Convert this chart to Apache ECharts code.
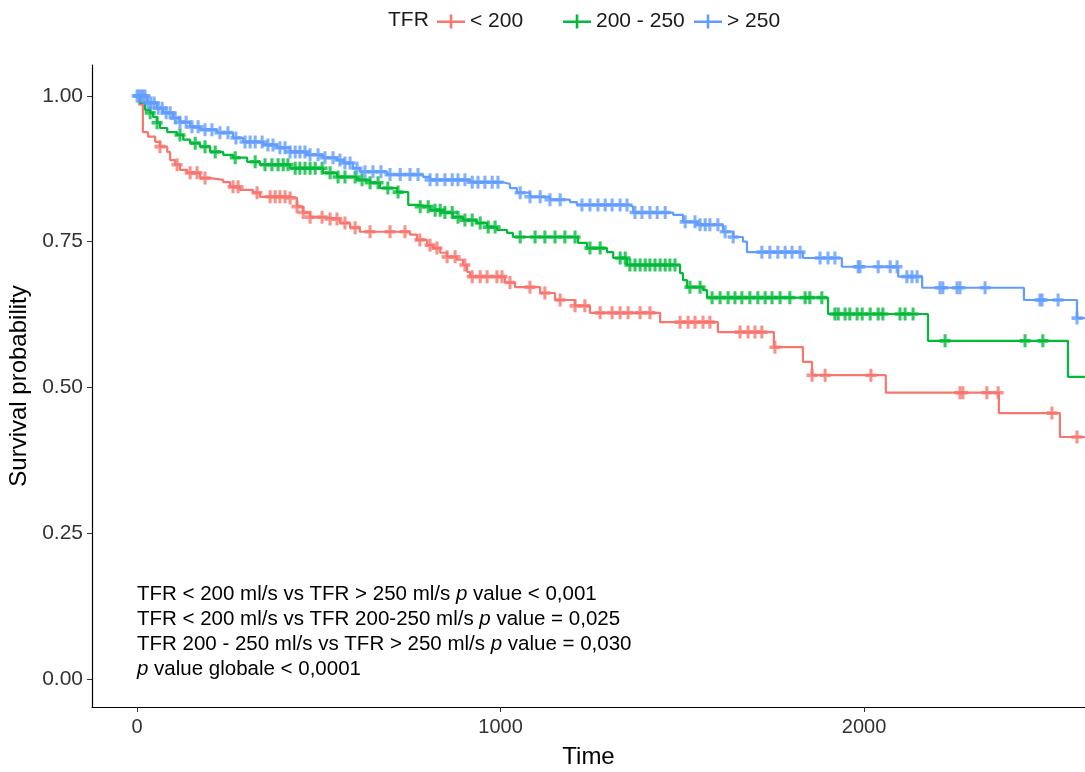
<!DOCTYPE html>
<html>
<head>
<meta charset="utf-8">
<script src="https://cdn.jsdelivr.net/npm/echarts@6/dist/echarts.min.js"></script>
<style>
  html, body { margin: 0; padding: 0; background: #fff; }
  #km { width: 1085px; height: 772px; }
</style>
</head>
<body>
<div id="km"></div>
<script>
// groupes TFR
var groupNames = ['< 200', '200 - 250', '> 250'];
var groupColors = ['#F8766D', '#00BA38', '#619CFF'];

// courbe < 200 : temps des evenements et survie apres chaque evenement
var lowTimes = [0, 6, 16, 30, 50, 63, 83, 91, 105, 118, 138, 173, 201, 237, 256, 283, 319, 338, 421, 440, 457, 476, 512, 558, 586, 613, 751, 770, 798, 814, 834, 853, 880, 897, 908, 916, 1012, 1040, 1109, 1150, 1205, 1246, 1439, 1598, 1752, 1832, 1857, 2060, 2371, 2539, 2620];
var lowSurv = [1, 0.985, 0.938, 0.93, 0.921, 0.913, 0.904, 0.89, 0.882, 0.873, 0.868, 0.859, 0.856, 0.852, 0.844, 0.839, 0.834, 0.827, 0.825, 0.81, 0.80, 0.792, 0.789, 0.782, 0.774, 0.767, 0.762, 0.753, 0.744, 0.739, 0.731, 0.724, 0.719, 0.71, 0.698, 0.69, 0.68, 0.672, 0.662, 0.65, 0.64, 0.628, 0.612, 0.595, 0.569, 0.544, 0.521, 0.491, 0.456, 0.415, 0.415];
var lowCensor = [63, 110, 146, 165, 187, 264, 278, 330, 366, 380, 393, 407, 421, 440, 457, 476, 509, 531, 550, 572, 600, 641, 696, 737, 778, 806, 825, 853, 875, 902, 922, 944, 963, 990, 1004, 1026, 1081, 1122, 1164, 1205, 1232, 1274, 1307, 1329, 1351, 1384, 1411, 1494, 1516, 1535, 1557, 1576, 1659, 1681, 1700, 1719, 1755, 1857, 1893, 2019, 2264, 2272, 2338, 2369, 2517, 2586];

// courbe 200 - 250
var midTimes = [0, 8, 22, 36, 44, 55, 63, 83, 110, 127, 146, 173, 201, 237, 264, 303, 338, 421, 512, 550, 605, 641, 668, 715, 746, 770, 806, 842, 869, 897, 935, 963, 990, 1018, 1034, 1213, 1238, 1293, 1310, 1348, 1494, 1502, 1513, 1557, 1568, 1901, 2176, 2561, 2620];
var midSurv = [1, 0.988, 0.976, 0.971, 0.964, 0.954, 0.945, 0.938, 0.933, 0.925, 0.919, 0.913, 0.904, 0.899, 0.894, 0.887, 0.882, 0.876, 0.868, 0.861, 0.856, 0.851, 0.842, 0.835, 0.813, 0.81, 0.804, 0.80, 0.792, 0.787, 0.782, 0.775, 0.77, 0.765, 0.758, 0.748, 0.739, 0.732, 0.722, 0.71, 0.696, 0.684, 0.672, 0.667, 0.654, 0.626, 0.58, 0.518, 0.518];
var midCensor = [36, 55, 118, 160, 187, 215, 270, 325, 352, 371, 388, 402, 415, 435, 448, 462, 476, 490, 509, 531, 553, 572, 600, 619, 641, 663, 690, 718, 779, 801, 820, 834, 847, 867, 883, 902, 922, 944, 966, 985, 1054, 1095, 1122, 1150, 1177, 1205, 1246, 1274, 1329, 1343, 1356, 1370, 1384, 1398, 1411, 1425, 1439, 1453, 1466, 1480, 1521, 1549, 1582, 1604, 1626, 1645, 1664, 1686, 1708, 1728, 1747, 1769, 1796, 1838, 1851, 1884, 1920, 1929, 1948, 1961, 1981, 1995, 2017, 2039, 2052, 2099, 2113, 2135, 2223, 2443, 2492];

// courbe > 250
var highTimes = [0, 28, 55, 72, 99, 118, 146, 173, 220, 264, 292, 347, 385, 421, 468, 512, 550, 567, 594, 613, 688, 787, 806, 916, 1007, 1026, 1045, 1081, 1136, 1191, 1210, 1356, 1365, 1475, 1502, 1541, 1612, 1640, 1667, 1678, 1832, 1939, 2094, 2160, 2440, 2586, 2620];
var highSurv = [1, 0.988, 0.979, 0.971, 0.962, 0.955, 0.947, 0.942, 0.937, 0.928, 0.921, 0.916, 0.911, 0.904, 0.899, 0.894, 0.89, 0.885, 0.876, 0.87, 0.865, 0.861, 0.856, 0.852, 0.849, 0.842, 0.834, 0.827, 0.822, 0.818, 0.813, 0.81, 0.80, 0.796, 0.784, 0.779, 0.767, 0.758, 0.75, 0.732, 0.722, 0.707, 0.69, 0.671, 0.65, 0.619, 0.619];
var highCensor = [0, 5, 11, 16, 22, 30, 38, 47, 58, 69, 80, 91, 105, 118, 135, 151, 168, 187, 206, 228, 250, 272, 297, 311, 325, 344, 360, 374, 393, 407, 421, 435, 448, 462, 476, 498, 517, 539, 558, 572, 586, 605, 627, 649, 671, 696, 724, 751, 773, 806, 825, 847, 867, 883, 902, 922, 938, 957, 977, 993, 1054, 1081, 1109, 1136, 1164, 1224, 1246, 1268, 1288, 1307, 1329, 1348, 1370, 1389, 1411, 1431, 1453, 1508, 1535, 1549, 1563, 1576, 1598, 1618, 1640, 1719, 1741, 1763, 1783, 1802, 1824, 1879, 1901, 1920, 1984, 1989, 2039, 2072, 2091, 2118, 2132, 2146, 2209, 2217, 2256, 2264, 2333, 2484, 2490, 2534, 2586];

// graduations
var xTicks = [0, 1000, 2000];
var yTicks = [0, 0.25, 0.5, 0.75, 1];

var curves = [
    { times: lowTimes, surv: lowSurv, censor: lowCensor },
    { times: midTimes, surv: midSurv, censor: midCensor },
    { times: highTimes, surv: highSurv, censor: highCensor }
];

// survie au temps t (fonction en escalier)
function survAt(c, t) {
    var s = c.surv[0];
    for (var i = 0; i < c.times.length; i++) {
        if (c.times[i] <= t) s = c.surv[i];
    }
    return s;
}

var FONT = 'Liberation Sans, Arial';
var plusPath = 'path://M3.6,0H6.4V3.6H10V6.4H6.4V10H3.6V6.4H0V3.6H3.6Z';
var legendIcon = 'path://M0,6H28V8.5H0Z M12.7,0H15.3V14H12.7Z';

var series = [];
curves.forEach(function (c, k) {
    series.push({
        name: groupNames[k],
        type: 'line',
        step: 'end',
        showSymbol: false,
        symbol: 'none',
        lineStyle: { width: 2.2, color: groupColors[k] },
        itemStyle: { color: groupColors[k] },
        data: c.times.map(function (t, i) { return [t, c.surv[i]]; }),
        z: 2
    });
    series.push({
        name: groupNames[k] + ' censor',
        type: 'scatter',
        symbol: plusPath,
        symbolSize: [11, 13],
        itemStyle: { color: groupColors[k] },
        data: c.censor.map(function (t) { return [t, survAt(c, t)]; }),
        z: 3
    });
});

var legendLefts = [437, 563, 694];
var legends = groupNames.map(function (n, k) {
    return {
        data: [n],
        left: legendLefts[k],
        top: 11,
        padding: 0,
        icon: legendIcon,
        itemWidth: 28,
        itemHeight: 14,
        itemGap: 0,
        textStyle: { fontSize: 21, color: '#1a1a1a', fontFamily: FONT },
        selectedMode: false
    };
});

var myChart = echarts.init(document.getElementById('km'));
myChart.setOption({
    animation: false,
    backgroundColor: '#fff',
    legend: legends,
    grid: { left: 92, right: 0, top: 65, bottom: 65, outerBoundsMode: 'none' },
    xAxis: {
        type: 'value',
        min: -124,
        max: 2608,
        name: 'Time',
        nameLocation: 'middle',
        nameGap: 38,
        nameTextStyle: { fontSize: 24, color: '#000', fontFamily: FONT },
        splitLine: { show: false },
        axisLine: { show: true, onZero: false, lineStyle: { color: '#000', width: 1.2 } },
        axisTick: { show: true, length: 5, customValues: xTicks, lineStyle: { color: '#333' } },
        axisLabel: {
            customValues: xTicks, margin: 10, fontSize: 20, color: '#333', fontFamily: FONT,
            formatter: function (v) { return String(v); }
        }
    },
    yAxis: {
        type: 'value',
        min: -0.048,
        max: 1.053,
        name: 'Survival probability',
        nameLocation: 'middle',
        nameGap: 54,
        nameTextStyle: { fontSize: 24, color: '#000', fontFamily: FONT },
        splitLine: { show: false },
        axisLine: { show: true, onZero: false, lineStyle: { color: '#000', width: 1.2 } },
        axisTick: { show: true, length: 5, customValues: yTicks, lineStyle: { color: '#333' } },
        axisLabel: {
            customValues: yTicks, margin: 9, fontSize: 21, color: '#333', fontFamily: FONT,
            formatter: function (v) { return v.toFixed(2); }
        }
    },
    graphic: [
        {
            type: 'text', left: 388, top: 10,
            style: { text: 'TFR', fontSize: 21, fill: '#1a1a1a', fontFamily: FONT }
        },
        {
            type: 'text', left: 137, top: 582,
            style: {
                text: 'TFR < 200 ml/s vs TFR > 250 ml/s {i|p} value < 0,001\n' +
                      'TFR < 200 ml/s vs TFR 200-250 ml/s {i|p} value = 0,025\n' +
                      'TFR 200 - 250 ml/s vs TFR > 250 ml/s {i|p} value = 0,030\n' +
                      '{i|p} value globale < 0,0001',
                fontSize: 20.5, lineHeight: 25, fill: '#000', fontFamily: FONT,
                rich: { i: { fontStyle: 'italic', fontSize: 20.5, fontFamily: FONT } }
            }
        }
    ],
    series: series
});
</script>
</body>
</html>
